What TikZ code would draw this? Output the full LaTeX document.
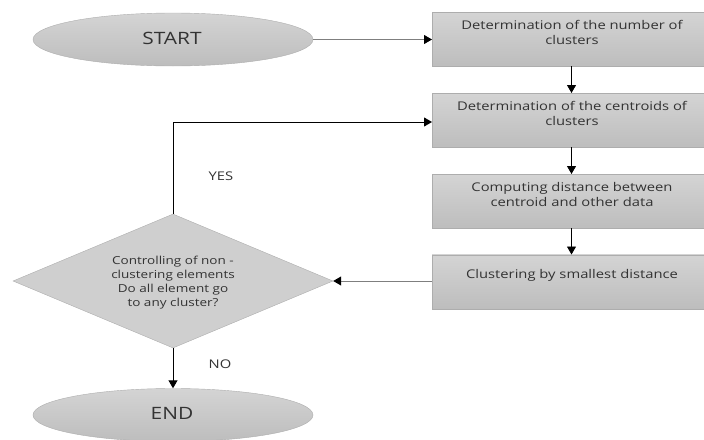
\documentclass[tikz,border=0pt]{standalone}
\usepackage{fontspec}
\setmainfont{Open Sans}[FakeStretch=1.23]
\usetikzlibrary{shapes.geometric,arrows.meta}
\definecolor{fillA}{HTML}{D4D4D4}
\definecolor{fillB}{HTML}{BDBDBD}
\definecolor{edgec}{HTML}{ADADAD}
\definecolor{txt}{HTML}{333333}
\definecolor{lgray}{HTML}{7F7F7F}
\begin{document}
\begin{tikzpicture}[x=1pt,y=-1pt,
  stepbox/.style={draw=edgec, top color=fillA, bottom color=fillB, minimum width=276pt, minimum height=54pt, inner sep=0pt, anchor=north west},
  term/.style={ellipse, draw=edgec, top color=fillA, bottom color=fillB, minimum width=280pt, minimum height=53pt, inner sep=0pt},
  dec/.style={diamond, draw=edgec, fill=fillA!80!fillB, minimum width=320pt, minimum height=134pt, inner sep=0pt},
  btxt/.style={text=txt, font=\fontsize{12}{15}\selectfont, align=center, inner sep=0pt},
  ttxt/.style={text=txt, font=\fontsize{17}{20}\selectfont, inner sep=0pt},
  arr/.style={draw=black, line width=0.9pt, -{Triangle[length=8pt,width=9pt]}},
  garr/.style={draw=lgray, line width=1pt, -{Triangle[length=8pt,width=9pt,color=black,fill=black]}}
]
\useasboundingbox (0,0) rectangle (704,439);
\node[term] (start) at (173,39.5) {};
\node[ttxt] (starttxt) at (172,38) {START};
\node[stepbox] (box1) at (432,12) {};
\node[btxt] (box1txt) at (572,32.5) {Determination of the number of\\clusters};
\node[stepbox] (box2) at (432,93) {};
\node[btxt] (box2txt) at (572,113.5) {Determination of the centroids of\\clusters};
\node[stepbox] (box3) at (432,174) {};
\node[btxt] (box3txt) at (572,194) {Computing distance between\\centroid and other data};
\node[stepbox] (box4) at (432,254.5) {};
\node[btxt] (box4txt) at (572,275) {Clustering by smallest distance};
\node[dec] (dia) at (173,281) {};
\node[btxt, font=\fontsize{11}{14}\selectfont] (diatxt) at (173,283) {Controlling of non -\\clustering elements\\Do all element go\\to any cluster?};
\node[term] (end) at (173,415) {};
\node[ttxt] (endtxt) at (172,413) {END};
\node[btxt] (yes) at (221,176) {YES};
\node[btxt] (no) at (220,364) {NO};
\draw[garr] (start.east) -- (box1.west |- start.east);
\draw[arr] (box1.south -| 571.5,0) -- (box2.north -| 571.5,0);
\draw[arr] (box2.south -| 571.5,0) -- (box3.north -| 571.5,0);
\draw[arr] (box3.south -| 571.5,0) -- (box4.north -| 571.5,0);
\draw[garr] (box4.west |- dia.east) -- (dia.east);
\draw[arr] (dia.north) |- (box2.west |- 0,122);
\draw[arr] (dia.south) -- (end.north);
\end{tikzpicture}
\end{document}
